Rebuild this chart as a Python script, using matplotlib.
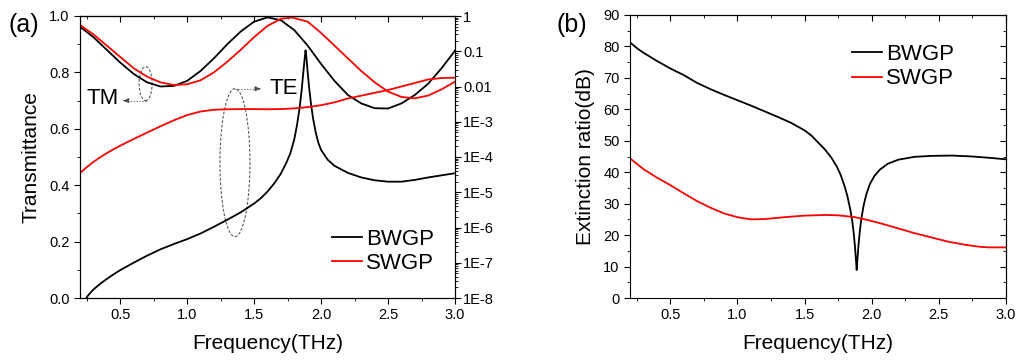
import numpy as np
import matplotlib
matplotlib.use('Agg')
import matplotlib.pyplot as plt
from matplotlib.patches import Ellipse
from matplotlib.ticker import MultipleLocator, LogLocator, FixedLocator, FixedFormatter

plt.rcParams['font.family'] = ['Liberation Sans', 'DejaVu Sans']

# (a) TM transmittance, left linear axis
tm_freq_b = [0.2, 0.3, 0.4, 0.5, 0.6, 0.7, 0.8, 0.9, 1.0, 1.1, 1.2, 1.3, 1.4, 1.5, 1.6,
             1.7, 1.8, 1.9, 2.0, 2.1, 2.2, 2.3, 2.4, 2.5, 2.6, 2.7, 2.8, 2.9, 3.0]
tm_bwgp = [0.962, 0.925, 0.88, 0.835, 0.795, 0.765, 0.75, 0.752, 0.77, 0.805, 0.85, 0.9, 0.945,
           0.98, 0.995, 0.985, 0.95, 0.895, 0.83, 0.77, 0.72, 0.69, 0.673, 0.672, 0.69, 0.72,
           0.76, 0.815, 0.877]
tm_freq_s = [0.2, 0.3, 0.4, 0.5, 0.6, 0.7, 0.8, 0.9, 1.0, 1.1, 1.2, 1.3, 1.4, 1.5, 1.6,
             1.7, 1.78, 1.9, 2.0, 2.1, 2.2, 2.3, 2.4, 2.5, 2.6, 2.7, 2.8, 2.9, 3.0]
tm_swgp = [0.968, 0.935, 0.895, 0.855, 0.815, 0.785, 0.765, 0.755, 0.758, 0.772, 0.8, 0.838,
           0.88, 0.925, 0.965, 0.99, 0.995, 0.98, 0.94, 0.895, 0.85, 0.805, 0.765, 0.732,
           0.713, 0.708, 0.718, 0.74, 0.767]

# (a) TE transmittance, right log axis (log10 values)
te_freq_b = [0.247, 0.26, 0.28, 0.3, 0.35, 0.4, 0.45, 0.5, 0.6, 0.7, 0.8, 0.9, 1.0, 1.1, 1.2,
             1.3, 1.4, 1.5, 1.55, 1.6, 1.65, 1.7, 1.74, 1.77, 1.8, 1.82, 1.84, 1.855, 1.865,
             1.875, 1.884, 1.89, 1.9, 1.91, 1.925, 1.94, 1.96, 1.98, 2.0, 2.05, 2.1, 2.2, 2.3,
             2.4, 2.5, 2.6, 2.7, 2.8, 2.9, 3.0]
te_bwgp_log = [-8.0, -7.93, -7.84, -7.76, -7.6, -7.46, -7.33, -7.21, -7.0, -6.8, -6.62, -6.47,
               -6.33, -6.17, -5.98, -5.78, -5.57, -5.32, -5.17, -4.98, -4.75, -4.47, -4.17,
               -3.9, -3.5, -3.1, -2.6, -2.1, -1.7, -1.3, -0.97, -1.15, -1.6, -2.0, -2.5, -2.9,
               -3.3, -3.6, -3.8, -4.08, -4.25, -4.45, -4.58, -4.66, -4.7, -4.7, -4.65, -4.58,
               -4.52, -4.46]
te_freq_s = [0.2, 0.25, 0.3, 0.35, 0.4, 0.45, 0.5, 0.6, 0.7, 0.8, 0.9, 1.0, 1.1, 1.2, 1.3,
             1.45, 1.6, 1.7, 1.8, 1.9, 2.0, 2.1, 2.2, 2.3, 2.4, 2.5, 2.6, 2.7, 2.8, 2.9, 3.0]
te_swgp_log = [-4.46, -4.29, -4.14, -4.01, -3.89, -3.78, -3.68, -3.49, -3.31, -3.13, -2.96,
               -2.81, -2.71, -2.66, -2.645, -2.64, -2.645, -2.64, -2.62, -2.585, -2.53, -2.45,
               -2.34, -2.26, -2.18, -2.1, -2.0, -1.9, -1.8, -1.76, -1.75]

log_ticks = [1e-8, 1e-7, 1e-6, 1e-5, 1e-4, 1e-3, 1e-2, 1e-1, 1]
log_labels = ['1E-8', '1E-7', '1E-6', '1E-5', '1E-4', '1E-3', '0.01', '0.1', '1']

# (b) extinction ratio
er_freq_b = [0.2, 0.25, 0.3, 0.4, 0.5, 0.6, 0.7, 0.8, 0.9, 1.0, 1.1, 1.2, 1.3, 1.4, 1.5, 1.55,
             1.6, 1.65, 1.7, 1.74, 1.77, 1.8, 1.82, 1.84, 1.855, 1.865, 1.875, 1.882, 1.888,
             1.894, 1.901, 1.911, 1.922, 1.94, 1.96, 1.987, 2.02, 2.06, 2.12, 2.2, 2.32, 2.45,
             2.6, 2.75, 2.9, 3.0]
er_bwgp = [81.3, 79.5, 78.0, 75.4, 73.0, 70.9, 68.4, 66.4, 64.6, 62.9, 61.2, 59.4, 57.6, 55.7,
           53.3, 51.7, 49.5, 47.3, 44.6, 41.8, 39.0, 35.3, 32.2, 28.2, 24.5, 21.0, 16.5, 12.5,
           8.9, 12.5, 16.5, 21.0, 25.0, 29.5, 33.0, 36.3, 38.8, 40.8, 42.7, 44.0, 44.9, 45.2,
           45.3, 45.0, 44.5, 44.1]
er_freq_s = [0.2, 0.3, 0.4, 0.5, 0.6, 0.7, 0.8, 0.9, 1.0, 1.1, 1.2, 1.35, 1.5, 1.65, 1.75,
             1.876, 1.97, 2.07, 2.2, 2.32, 2.45, 2.57, 2.7, 2.8, 2.87, 3.0]
er_swgp = [44.4, 41.0, 38.3, 35.9, 33.3, 30.8, 28.7, 26.9, 25.7, 25.0, 25.1, 25.7, 26.2, 26.4,
           26.3, 25.7, 24.8, 23.7, 22.1, 20.6, 19.2, 17.9, 16.9, 16.3, 16.1, 16.1]

lw = 1.3
tick_fs = 10.5
lab_fs = 15

fig = plt.figure(figsize=(10.19, 3.62), dpi=100)


def style_x(ax):
    ax.set_xlim(0.2, 3.0)
    ax.xaxis.set_major_locator(MultipleLocator(0.5))
    ax.xaxis.set_minor_locator(MultipleLocator(0.25))
    ax.tick_params(axis='x', which='both', direction='out', top=False, labelsize=tick_fs)
    ax.tick_params(axis='x', which='major', length=4)
    ax.tick_params(axis='x', which='minor', length=2.5)
    top = ax.secondary_xaxis('top')
    top.xaxis.set_major_locator(MultipleLocator(0.5))
    top.xaxis.set_minor_locator(MultipleLocator(0.25))
    top.tick_params(axis='x', which='both', direction='in', labeltop=False)
    top.tick_params(axis='x', which='major', length=4)
    top.tick_params(axis='x', which='minor', length=2.5)


# ---------- panel (a) ----------
ax = fig.add_axes([80 / 1019, 1 - 298 / 362, 375 / 1019, 282 / 362])
ax2 = ax.twinx()

l1, = ax.plot(tm_freq_b, tm_bwgp, color='black', lw=lw)
l2, = ax.plot(tm_freq_s, tm_swgp, color='red', lw=lw)
ax2.plot(te_freq_b, 10 ** np.array(te_bwgp_log), color='black', lw=lw)
ax2.plot(te_freq_s, 10 ** np.array(te_swgp_log), color='red', lw=lw)

style_x(ax)
ax.set_ylim(0, 1.0)
ax.yaxis.set_major_locator(MultipleLocator(0.2))
ax.yaxis.set_minor_locator(MultipleLocator(0.1))
ax.tick_params(axis='y', which='both', direction='out', right=False, labelsize=tick_fs)
ax.tick_params(axis='y', which='major', length=4)
ax.tick_params(axis='y', which='minor', length=2.5)
ax.yaxis.set_major_formatter(plt.FuncFormatter(lambda v, p: f'{v:.1f}'))
ax.set_ylabel('Transmittance', fontsize=lab_fs, labelpad=6)
ax.set_xlabel('Frequency(THz)', fontsize=lab_fs, labelpad=8)

ax2.set_yscale('log')
ax2.set_ylim(1e-8, 1)
ax2.yaxis.set_major_locator(FixedLocator(log_ticks))
ax2.yaxis.set_major_formatter(FixedFormatter(log_labels))
ax2.yaxis.set_minor_locator(LogLocator(base=10, subs=np.arange(2, 10), numticks=100))
ax2.tick_params(axis='y', which='both', direction='out', labelsize=tick_fs, pad=2)
ax2.tick_params(axis='y', which='major', length=4)
ax2.tick_params(axis='y', which='minor', length=2)

# annotations: ellipses and dotted arrows
ell_style = dict(fill=False, edgecolor='0.35', lw=0.8, linestyle=(0, (2.5, 1.5)))
ax.add_patch(Ellipse((0.69, 0.76), 0.097, 0.12, **ell_style))
ax.add_patch(Ellipse((1.357, 0.48), 0.224, 0.525, **ell_style))
ax.plot([0.69, 0.53], [0.70, 0.70], color='0.35', lw=0.8, linestyle=':')
ax.annotate('', xy=(0.505, 0.70), xytext=(0.55, 0.70),
            arrowprops=dict(arrowstyle='-|>', color='0.3', lw=0.8, mutation_scale=7))
ax.plot([1.357, 1.54], [0.742, 0.742], color='0.35', lw=0.8, linestyle=':')
ax.annotate('', xy=(1.566, 0.742), xytext=(1.52, 0.742),
            arrowprops=dict(arrowstyle='-|>', color='0.3', lw=0.8, mutation_scale=7))
ax.text(0.372, 0.706, 'TM', fontsize=16, ha='center', va='center')
ax.text(1.72, 0.742, 'TE', fontsize=16, ha='center', va='center')

ax2.legend([l1, l2], ['BWGP', 'SWGP'], loc='center left', bbox_to_anchor=(0.672, 0.165),
           frameon=False, fontsize=16, handlelength=1.35, handletextpad=0.2,
           labelspacing=0.15, borderpad=0, borderaxespad=0)

# ---------- panel (b) ----------
bx = fig.add_axes([630 / 1019, 1 - 298 / 362, 376 / 1019, 283 / 362])
m1, = bx.plot(er_freq_b, er_bwgp, color='black', lw=lw)
m2, = bx.plot(er_freq_s, er_swgp, color='red', lw=lw)
style_x(bx)
bx.set_ylim(0, 90)
bx.yaxis.set_major_locator(MultipleLocator(10))
bx.yaxis.set_minor_locator(MultipleLocator(5))
bx.tick_params(axis='y', which='both', direction='out', right=False, labelsize=tick_fs)
bx.tick_params(axis='y', which='major', length=4)
bx.tick_params(axis='y', which='minor', length=2.5)
rgt = bx.secondary_yaxis('right')
rgt.yaxis.set_major_locator(MultipleLocator(10))
rgt.yaxis.set_minor_locator(MultipleLocator(5))
rgt.tick_params(axis='y', which='both', direction='in', labelright=False)
rgt.tick_params(axis='y', which='major', length=4)
rgt.tick_params(axis='y', which='minor', length=2.5)
bx.set_ylabel('Extinction ratio(dB)', fontsize=lab_fs, labelpad=6)
bx.set_xlabel('Frequency(THz)', fontsize=lab_fs, labelpad=8)
bx.legend([m1, m2], ['BWGP', 'SWGP'], loc='center left', bbox_to_anchor=(0.59, 0.817),
          frameon=False, fontsize=16, handlelength=1.35, handletextpad=0.2,
          labelspacing=0.15, borderpad=0, borderaxespad=0)

fig.text(24 / 1019, 1 - 25 / 362, '(a)', fontsize=18, ha='center', va='center')
fig.text(572 / 1019, 1 - 25 / 362, '(b)', fontsize=18, ha='center', va='center')

fig.savefig('out.png', dpi=100)
